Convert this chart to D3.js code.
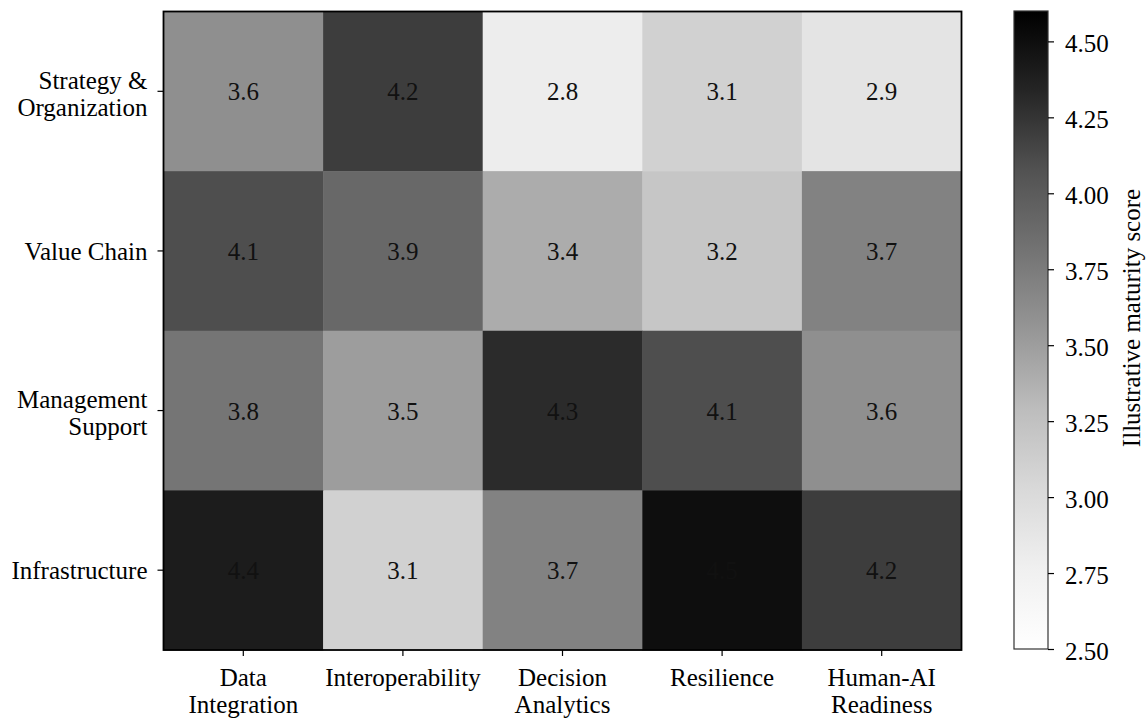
<!DOCTYPE html>
<html>
<head>
<meta charset="utf-8">
<script src="https://cdn.jsdelivr.net/npm/d3@7"></script>
<style>
  body { margin: 0; background: #fff; }
  svg text { font-family: "Liberation Serif", "Times New Roman", serif; fill: #000; }
</style>
</head>
<body>
<div id="chart"></div>
<script>
// rows (top to bottom) and columns
const rows = ["Strategy &\nOrganization", "Value Chain", "Management\nSupport", "Infrastructure"];
const cols = ["Data\nIntegration", "Interoperability", "Decision\nAnalytics", "Resilience", "Human-AI\nReadiness"];

// one array of scores per row
const strategyOrg = [3.6, 4.2, 2.8, 3.1, 2.9];
const valueChain = [4.1, 3.9, 3.4, 3.2, 3.7];
const mgmtSupport = [3.8, 3.5, 4.3, 4.1, 3.6];
const infrastructure = [4.4, 3.1, 3.7, 4.5, 4.2];

const colorTicks = [2.5, 2.75, 3.0, 3.25, 3.5, 3.75, 4.0, 4.25, 4.5];
const colorDomain = [2.5, 4.6];
const colorLabel = "Illustrative maturity score";

const values = [strategyOrg, valueChain, mgmtSupport, infrastructure];

const width = 1148, height = 719;
const plot = { left: 163.5, top: 11.5, right: 961.5, bottom: 650 };
const cbar = { left: 1014, right: 1048, top: 11, bottom: 649 };
const fontSize = 25;

// matplotlib "Greys" anchors
const greys = ["#ffffff", "#f0f0f0", "#d9d9d9", "#bdbdbd", "#969696", "#737373", "#525252", "#252525", "#000000"];
const norm = d3.scaleLinear().domain(colorDomain).range([0, 1]);
const cmap = d3.scaleLinear()
  .domain(d3.range(greys.length).map(i => i / (greys.length - 1)))
  .range(greys)
  .clamp(true);
const color = v => cmap(norm(v));

const svg = d3.select("#chart").append("svg")
  .attr("width", width)
  .attr("height", height);

const x = d3.scaleBand().domain(d3.range(cols.length)).range([plot.left, plot.right]);
const y = d3.scaleBand().domain(d3.range(rows.length)).range([plot.top, plot.bottom]);

// Cells
const cells = values.flatMap((row, i) => row.map((v, j) => ({ i, j, v })));

svg.append("g")
  .selectAll("rect")
  .data(cells)
  .join("rect")
  .attr("x", d => x(d.j))
  .attr("y", d => y(d.i))
  .attr("width", x.bandwidth() + 0.5)
  .attr("height", y.bandwidth() + 0.5)
  .attr("fill", d => color(d.v));

svg.append("g")
  .selectAll("text")
  .data(cells)
  .join("text")
  .attr("x", d => x(d.j) + x.bandwidth() / 2)
  .attr("y", d => y(d.i) + y.bandwidth() / 2 + 9)
  .attr("text-anchor", "middle")
  .style("font-size", fontSize + "px")
  .style("fill", "#111")
  .text(d => d.v.toFixed(1));

// frame
svg.append("rect")
  .attr("x", plot.left).attr("y", plot.top)
  .attr("width", plot.right - plot.left).attr("height", plot.bottom - plot.top)
  .attr("fill", "none").attr("stroke", "#000").attr("stroke-width", 1.8);

// Multi-line label helper
const lineGap = 27;
function multiline(sel) {
  sel.each(function (d) {
    const lines = d.split("\n");
    const t = d3.select(this);
    lines.forEach((l, k) => t.append("tspan").attr("x", t.attr("x")).attr("dy", k === 0 ? 0 : lineGap).text(l));
  });
}

// y axis
const yTicks = svg.append("g");
yTicks.selectAll("line")
  .data(rows)
  .join("line")
  .attr("x1", plot.left - 6).attr("x2", plot.left)
  .attr("y1", (d, i) => y(i) + y.bandwidth() / 2)
  .attr("y2", (d, i) => y(i) + y.bandwidth() / 2)
  .attr("stroke", "#000").attr("stroke-width", 1.2);

yTicks.selectAll("text")
  .data(rows)
  .join("text")
  .attr("x", plot.left - 16)
  .attr("y", (d, i) => {
    const n = d.split("\n").length;
    return y(i) + y.bandwidth() / 2 + 9 - (n - 1) * lineGap / 2 + (n > 1 ? 2 : 0);
  })
  .attr("text-anchor", "end")
  .style("font-size", fontSize + "px")
  .call(multiline);

// x axis
const xTicks = svg.append("g");
xTicks.selectAll("line")
  .data(cols)
  .join("line")
  .attr("x1", (d, j) => x(j) + x.bandwidth() / 2)
  .attr("x2", (d, j) => x(j) + x.bandwidth() / 2)
  .attr("y1", plot.bottom).attr("y2", plot.bottom + 6)
  .attr("stroke", "#000").attr("stroke-width", 1.2);

xTicks.selectAll("text")
  .data(cols)
  .join("text")
  .attr("x", (d, j) => x(j) + x.bandwidth() / 2)
  .attr("y", plot.bottom + 36)
  .attr("text-anchor", "middle")
  .style("font-size", fontSize + "px")
  .call(multiline);

// Colorbar
const cy = d3.scaleLinear().domain(colorDomain).range([cbar.bottom, cbar.top]);

const grad = svg.append("defs").append("linearGradient")
  .attr("id", "cbar-grad")
  .attr("x1", 0).attr("y1", 1).attr("x2", 0).attr("y2", 0);
grad.selectAll("stop")
  .data(greys)
  .join("stop")
  .attr("offset", (d, i) => i / (greys.length - 1))
  .attr("stop-color", d => d);

svg.append("rect")
  .attr("x", cbar.left).attr("y", cbar.top)
  .attr("width", cbar.right - cbar.left).attr("height", cbar.bottom - cbar.top)
  .attr("fill", "url(#cbar-grad)")
  .attr("stroke", "#333").attr("stroke-width", 1.2);

const cAxis = svg.append("g")
  .attr("transform", `translate(${cbar.right},0)`)
  .call(d3.axisRight(cy).tickValues(colorTicks).tickFormat(d3.format(".2f")).tickSize(6).tickPadding(11));
cAxis.attr("font-family", null).attr("font-size", null);
cAxis.select(".domain").remove();
cAxis.selectAll("line").attr("stroke", "#000").attr("stroke-width", 1.2);
cAxis.selectAll("text")
  .attr("dy", "0.4em")
  .style("font-size", fontSize + "px")
  .attr("fill", "#000");

svg.append("text")
  .attr("transform", "translate(1131,318) rotate(-90)")
  .attr("text-anchor", "middle")
  .attr("dy", "0.35em")
  .style("font-size", fontSize + "px")
  .text(colorLabel);
</script>
</body>
</html>
